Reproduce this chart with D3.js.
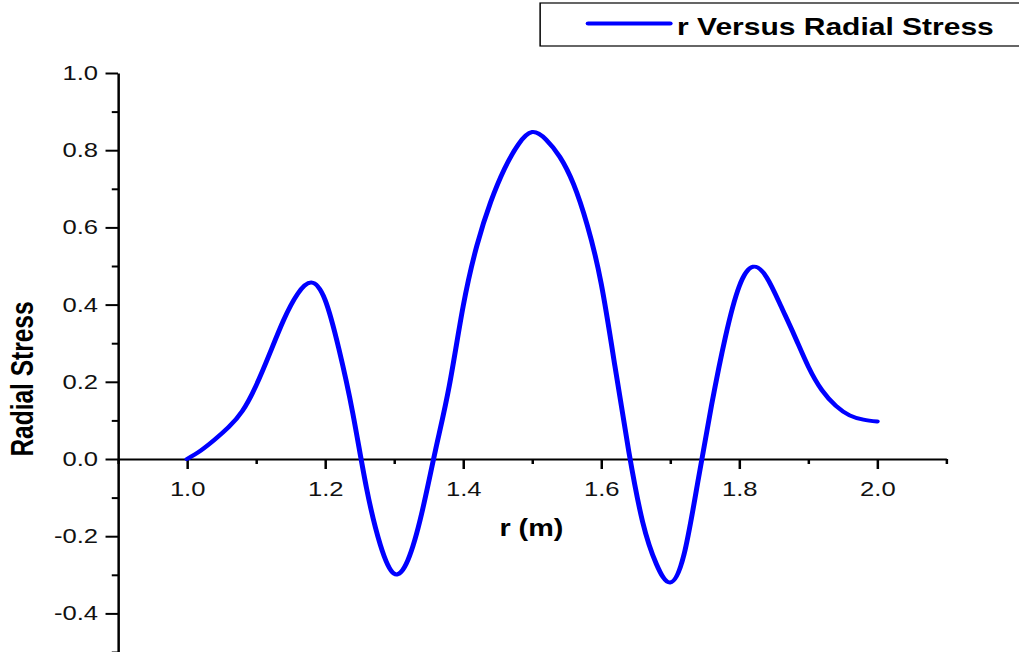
<!DOCTYPE html>
<html>
<head>
<meta charset="utf-8">
<script src="https://cdn.jsdelivr.net/npm/d3@7"></script>
<style>
  body { margin: 0; background: #fff; }
  svg { display: block; }
  text { font-family: "Liberation Sans", Arial, sans-serif; }
</style>
</head>
<body>
<div id="chart"></div>
<script>
// values, r in metres
const rVals = [1.00, 1.02, 1.04, 1.06, 1.08, 1.10, 1.12, 1.14, 1.16, 1.18,
  1.20, 1.22, 1.24, 1.26, 1.28, 1.30, 1.32, 1.34, 1.36, 1.38,
  1.40, 1.42, 1.44, 1.46, 1.48, 1.50, 1.52, 1.54, 1.56, 1.58,
  1.60, 1.62, 1.64, 1.66, 1.68, 1.70, 1.72, 1.74, 1.76, 1.78,
  1.80, 1.82, 1.84, 1.86, 1.88, 1.90, 1.92, 1.94, 1.96, 1.98, 2.00]
const stressVals = [0.000, 0.022, 0.050, 0.082, 0.124, 0.190, 0.274, 0.360, 0.427, 0.457,
  0.412, 0.285, 0.120, -0.075, -0.222, -0.297, -0.262, -0.141, 0.023, 0.190,
  0.395, 0.553, 0.666, 0.752, 0.815, 0.847, 0.828, 0.783, 0.712, 0.605,
  0.455, 0.240, 0.020, -0.162, -0.272, -0.320, -0.248, -0.060, 0.140, 0.316,
  0.447, 0.498, 0.470, 0.398, 0.320, 0.240, 0.178, 0.138, 0.113, 0.102, 0.097]

const xMajor = [1.0, 1.2, 1.4, 1.6, 1.8, 2.0]
const xMinor = [0.9, 1.1, 1.3, 1.5, 1.7, 1.9, 2.1]
const yMajor = [-0.4, -0.2, 0.0, 0.2, 0.4, 0.6, 0.8, 1.0]
const yMinor = [-0.5, -0.3, -0.1, 0.1, 0.3, 0.5, 0.7, 0.9]

const legendLabel = "r Versus Radial Stress"
const xTitle = "r (m)"
const yTitle = "Radial Stress"

// the original figure looks stretched sideways, so draw narrow and let the viewBox widen it
const W = 815, H = 652

let svg = d3.select("#chart").append("svg")
  .attr("width", 1019).attr("height", H)
  .attr("viewBox", `0 0 ${W} ${H}`)
  .attr("preserveAspectRatio", "none")

let x = d3.scaleLinear().domain([0.9, 2.1]).range([94.4, 756.8])
let y = d3.scaleLinear().domain([-0.5, 1.0]).range([652, 73])

// plain hyphen for negatives, like the original
let fmt = d => d3.format(".1f")(d).replace("\u2212", "-")

// y axis, majors then minors
svg.append("g").attr("transform", `translate(${x(0.9)},0)`)
  .call(d3.axisLeft(y).tickValues(yMajor).tickSize(10).tickSizeOuter(0).tickPadding(6)
    .tickFormat(fmt))
svg.append("g").attr("transform", `translate(${x(0.9)},0)`)
  .call(d3.axisLeft(y).tickValues(yMinor).tickSize(5).tickSizeOuter(0).tickFormat(""))
  .select(".domain").remove()

// x axis sits on the zero line
svg.append("g").attr("transform", `translate(0,${y(0)})`)
  .call(d3.axisBottom(x).tickValues(xMajor).tickSize(10).tickSizeOuter(0).tickPadding(12)
    .tickFormat(fmt))
svg.append("g").attr("transform", `translate(0,${y(0)})`)
  .call(d3.axisBottom(x).tickValues(xMinor).tickSize(5).tickSizeOuter(0).tickFormat(""))
  .select(".domain").remove()

svg.selectAll(".domain").attr("stroke", "#000").attr("stroke-width", 2)
svg.selectAll(".tick line").attr("stroke", "#000").attr("stroke-width", 2)
svg.selectAll(".tick text").attr("font-size", 20.5).attr("fill", "#111")
  .style("font-family", '"Liberation Sans", Arial, sans-serif')

// curve
let pts = rVals.map((r, i) => [r, stressVals[i]])
let line = d3.line().x(d => x(d[0])).y(d => y(d[1])).curve(d3.curveNatural)
svg.append("path").datum(pts)
  .attr("d", line)
  .attr("fill", "none")
  .attr("stroke", "#0000ff")
  .attr("stroke-width", 4)
  .attr("stroke-linecap", "round")
  .attr("stroke-linejoin", "round")

// axis titles
svg.append("text").attr("x", 425).attr("y", 536)
  .attr("text-anchor", "middle").attr("font-size", 23).attr("font-weight", "bold")
  .text(xTitle)
svg.append("text").attr("transform", "translate(26.5,379) rotate(-90)")
  .attr("text-anchor", "middle").attr("font-size", 24.5).attr("font-weight", "bold")
  .text(yTitle)

// legend box runs off the right edge
let lg = svg.append("g")
lg.append("rect").attr("x", 432).attr("y", 3).attr("width", 420).attr("height", 43)
  .attr("fill", "#fff").attr("stroke", "#000").attr("stroke-width", 1.2)
lg.append("line").attr("x1", 470.4).attr("x2", 536).attr("y1", 23.5).attr("y2", 23.5)
  .attr("stroke", "#0000ff").attr("stroke-width", 4).attr("stroke-linecap", "round")
lg.append("text").attr("x", 541.5).attr("y", 35.5)
  .attr("font-size", 24).attr("font-weight", "bold").attr("fill", "#000")
  .text(legendLabel)
</script>
</body>
</html>
